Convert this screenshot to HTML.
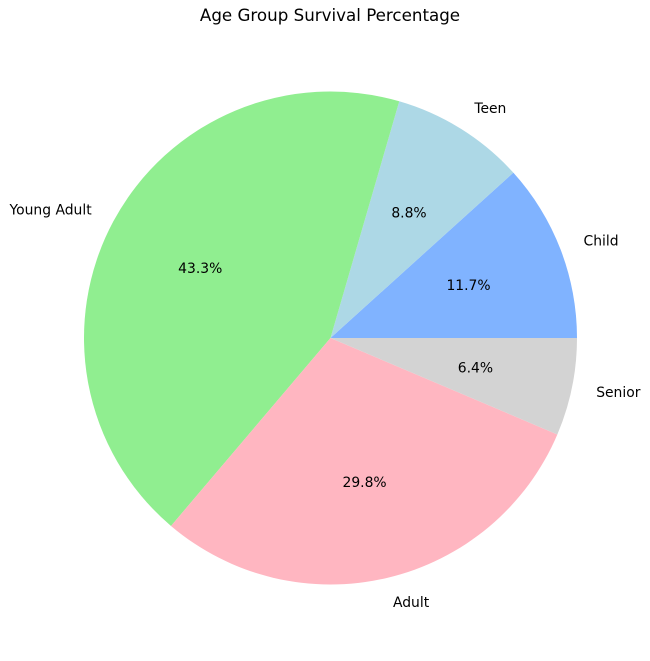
<!DOCTYPE html>
<html><head><meta charset="utf-8"><style>
body{margin:0;background:#fff;}
svg text{font-family:"DejaVu Sans","Liberation Sans",sans-serif;}
</style></head><body>
<svg id="chart" width="650" height="656">
<text x="330" y="21" text-anchor="middle" font-size="16.7">Age Group Survival Percentage</text>
<g id="slices"></g>
</svg>
<script>
const categories = ["Child","Teen","Young Adult","Adult","Senior"];
const values = [11.7, 8.8, 43.3, 29.8, 6.4];
const colors = ["#80b3ff","#add8e6","#90ee90","#ffb6c1","#d3d3d3"];
const cx=330.5, cy=338, r=246.5;
const ns="http://www.w3.org/2000/svg";
const g=document.getElementById('slices');
const total=values.reduce((a,b)=>a+b,0);
let start=0;
function pt(a,rr){return [cx+rr*Math.cos(a), cy-rr*Math.sin(a)];}
values.forEach((v,i)=>{
  const sweep=v/total*2*Math.PI, end=start+sweep;
  const [x1,y1]=pt(start,r),[x2,y2]=pt(end,r);
  const p=document.createElementNS(ns,'path');
  p.setAttribute('d',`M${cx},${cy} L${x1},${y1} A${r},${r} 0 ${sweep>Math.PI?1:0} 0 ${x2},${y2} Z`);
  p.setAttribute('fill',colors[i]);
  
  
  g.appendChild(p);
  const mid=start+sweep/2;
  const [lx,ly]=pt(mid,r*1.1);
  const t=document.createElementNS(ns,'text');
  t.setAttribute('x',lx);t.setAttribute('y',ly+5);t.setAttribute('font-size','13.9');
  t.setAttribute('text-anchor',Math.cos(mid)>=0?'start':'end');
  t.textContent=categories[i];
  
  
  g.appendChild(t);
  const [px,py]=pt(mid,r*0.6);
  const t2=document.createElementNS(ns,'text');
  t2.setAttribute('x',px);t2.setAttribute('y',py+5);t2.setAttribute('font-size','13.9');
  t2.setAttribute('text-anchor','middle');
  t2.textContent=(v/total*100).toFixed(1)+'%';
  
  
  g.appendChild(t2);
  start=end;
});
</script>
</body></html>
